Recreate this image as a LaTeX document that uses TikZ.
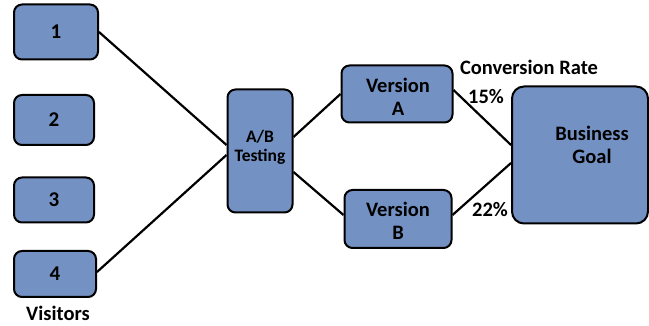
\documentclass[tikz,border=0pt]{standalone}
\usepackage{fontspec}
\setmainfont{Carlito}
\usetikzlibrary{calc}
\definecolor{boxfill}{RGB}{115,145,194}
\begin{document}
\begin{tikzpicture}[x=1pt,y=-1pt,
  box/.style={draw=black,line width=2pt,fill=boxfill,rounded corners=8pt,inner sep=0pt,align=center,font=\bfseries\fontsize{20.5}{23}\selectfont},
  numbox/.style={box,font=\bfseries\fontsize{21}{23}\selectfont},
  conn/.style={draw=black,line width=2.2pt},
  lbl/.style={font=\bfseries\fontsize{20.5}{23}\selectfont,inner sep=0pt},
  ablbl/.style={font=\bfseries\fontsize{17.5}{19}\selectfont,inner sep=0pt,align=center}]
\useasboundingbox (0,0) rectangle (649,326);
\node[numbox,minimum width=84pt,minimum height=55pt] (v1) at (56,32) {1};
\node[numbox,minimum width=80pt,minimum height=50pt] (v2) at (54,120) {2};
\node[numbox,minimum width=80pt,minimum height=45pt] (v3) at (54,200) {3};
\node[numbox,minimum width=82pt,minimum height=46pt] (v4) at (55,274) {4};
\node[lbl] (vis) at (58,313) {Visitors};
\node[box,minimum width=65pt,minimum height=123pt] (ab) at (260,151) {};
\node[ablbl] (abt) at (260,147) {A/B\\Testing};
\node[box,minimum width=111pt,minimum height=57pt] (va) at (397,94) {};
\node[lbl,align=center] (vat) at (398,97) {Version\\A};
\node[box,minimum width=107pt,minimum height=58pt] (vb) at (398,219) {};
\node[lbl,align=center] (vbt) at (398,221) {Version\\B};
\node[box,minimum width=136pt,minimum height=137pt,rounded corners=12pt] (bg) at (580,155) {};
\node[lbl,align=center] (bgt) at (592,145) {Business\\Goal};
\node[lbl] (cr) at (529,67) {Conversion Rate};
\node[lbl] (p15) at (486,97) {15\%};
\node[lbl] (p22) at (490,210) {22\%};
\draw[conn] (v1.east) -- ($(ab.west)+(0,-6)$);
\draw[conn] ($(v4.east)+(0,-2)$) -- ($(ab.west)+(0,4)$);
\draw[conn] ($(ab.east)+(0,-14)$) -- (va.west);
\draw[conn] ($(ab.east)+(0,21)$) -- ($(vb.west)+(0,-4)$);
\draw[conn] ($(va.east)+(0,-4)$) -- ($(bg.west)+(0,-10)$);
\draw[conn] ($(vb.east)+(0,-4)$) -- ($(bg.west)+(0,8)$);
\end{tikzpicture}
\end{document}
